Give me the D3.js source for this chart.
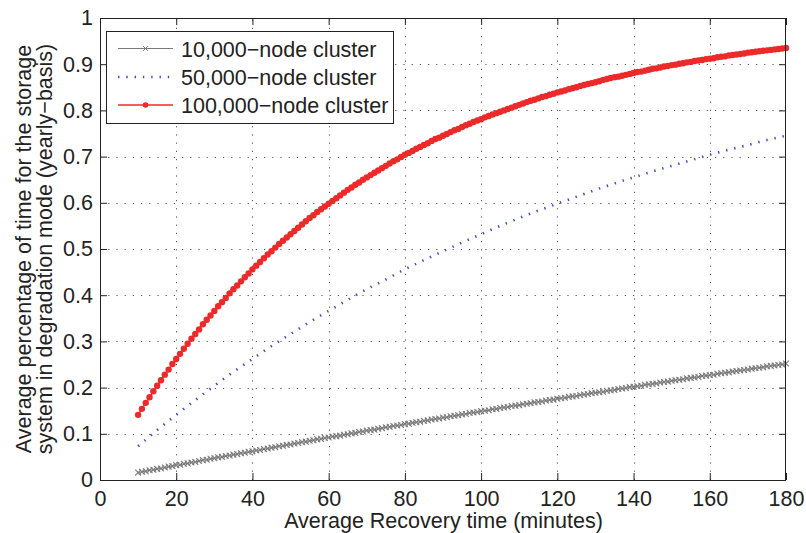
<!DOCTYPE html>
<html>
<head>
<meta charset="utf-8">
<script src="https://cdn.jsdelivr.net/npm/d3@7"></script>
<style>
  html, body { margin: 0; padding: 0; background: #fff; }
  svg { display: block; font-family: "Liberation Sans", Arial, Helvetica, sans-serif; }
</style>
</head>
<body>
<svg id="chart" width="806" height="533"></svg>
<script>
// Recovery time (minutes), one sample per minute
const minutes = d3.range(10, 181);

// 10,000-node cluster (gray, x markers)
const cluster10k = [
  0.016,0.018,0.019,0.021,0.022,0.024,0.025,0.027,0.029,0.030,
  0.032,0.033,0.035,0.036,0.038,0.039,0.041,0.043,0.044,0.046,
  0.047,0.049,0.050,0.052,0.053,0.055,0.056,0.058,0.059,0.061,
  0.062,0.064,0.065,0.067,0.068,0.070,0.071,0.073,0.074,0.076,
  0.077,0.079,0.080,0.082,0.083,0.085,0.086,0.088,0.089,0.091,
  0.092,0.094,0.095,0.096,0.098,0.099,0.101,0.102,0.104,0.105,
  0.107,0.108,0.109,0.111,0.112,0.114,0.115,0.117,0.118,0.119,
  0.121,0.122,0.124,0.125,0.126,0.128,0.129,0.131,0.132,0.133,
  0.135,0.136,0.138,0.139,0.140,0.142,0.143,0.145,0.146,0.147,
  0.149,0.150,0.151,0.153,0.154,0.156,0.157,0.158,0.160,0.161,
  0.162,0.164,0.165,0.166,0.168,0.169,0.170,0.172,0.173,0.174,
  0.176,0.177,0.178,0.180,0.181,0.182,0.184,0.185,0.186,0.188,
  0.189,0.190,0.191,0.193,0.194,0.195,0.197,0.198,0.199,0.201,
  0.202,0.203,0.204,0.206,0.207,0.208,0.209,0.211,0.212,0.213,
  0.215,0.216,0.217,0.218,0.220,0.221,0.222,0.223,0.225,0.226,
  0.227,0.228,0.230,0.231,0.232,0.233,0.235,0.236,0.237,0.238,
  0.239,0.241,0.242,0.243,0.244,0.246,0.247,0.248,0.249,0.250,
  0.252
];

// 50,000-node cluster (blue, dotted line), every 5 minutes
const minutes50k = d3.range(10, 181, 5);
const cluster50k = [
  0.073,0.108,0.141,0.173,0.204,0.234,0.262,0.290,0.316,0.342,
  0.366,0.390,0.413,0.434,0.456,0.476,0.495,0.514,0.532,0.550,
  0.567,0.583,0.598,0.613,0.628,0.642,0.655,0.668,0.680,0.692,
  0.704,0.715,0.725,0.736,0.745
];

// 100,000-node cluster (red, dot markers)
const cluster100k = [
  0.141,0.154,0.167,0.179,0.192,0.204,0.216,0.228,0.239,0.251,
  0.262,0.273,0.284,0.295,0.306,0.316,0.326,0.337,0.347,0.356,
  0.366,0.376,0.385,0.394,0.404,0.413,0.421,0.430,0.439,0.447,
  0.456,0.464,0.472,0.480,0.488,0.495,0.503,0.511,0.518,0.525,
  0.532,0.539,0.546,0.553,0.560,0.567,0.573,0.580,0.586,0.592,
  0.598,0.604,0.610,0.616,0.622,0.628,0.633,0.639,0.644,0.650,
  0.655,0.660,0.665,0.670,0.675,0.680,0.685,0.690,0.694,0.699,
  0.704,0.708,0.712,0.717,0.721,0.725,0.729,0.734,0.738,0.741,
  0.745,0.749,0.753,0.757,0.760,0.764,0.768,0.771,0.775,0.778,
  0.781,0.785,0.788,0.791,0.794,0.797,0.800,0.803,0.806,0.809,
  0.812,0.815,0.818,0.821,0.823,0.826,0.829,0.831,0.834,0.836,
  0.839,0.841,0.843,0.846,0.848,0.850,0.853,0.855,0.857,0.859,
  0.861,0.863,0.866,0.868,0.870,0.872,0.873,0.875,0.877,0.879,
  0.881,0.883,0.884,0.886,0.888,0.890,0.891,0.893,0.895,0.896,
  0.898,0.899,0.901,0.902,0.904,0.905,0.907,0.908,0.909,0.911,
  0.912,0.913,0.915,0.916,0.917,0.919,0.920,0.921,0.922,0.923,
  0.925,0.926,0.927,0.928,0.929,0.930,0.931,0.932,0.933,0.934,
  0.935
];

const xTicks = [0, 20, 40, 60, 80, 100, 120, 140, 160, 180];
const yTicks = [0, 0.1, 0.2, 0.3, 0.4, 0.5, 0.6, 0.7, 0.8, 0.9, 1];
const yTickLabels = ["0", "0.1", "0.2", "0.3", "0.4", "0.5", "0.6", "0.7", "0.8", "0.9", "1"];

const seriesNames = ["10,000\u2212node cluster", "50,000\u2212node cluster", "100,000\u2212node cluster"];
const xTitle = "Average Recovery time (minutes)";
const yTitleLines = ["Average percentage of time for the storage", "system in degradation mode (yearly\u2212basis)"];

const svg = d3.select("#chart");
const FONT = 21.5;
const INK = "#222";
const GRAY = "#7a7a7a", BLUE = "#3d4fc4", RED = "#ec2a2a";

const plot = { left: 100, right: 786, top: 18, bottom: 480 };
const x = d3.scaleLinear().domain([0, 180]).range([plot.left, plot.right]);
const y = d3.scaleLinear().domain([0, 1]).range([plot.bottom, plot.top]);

// dotted grid
const grid = svg.append("g").attr("stroke", "#555").attr("stroke-width", 1)
  .attr("stroke-dasharray", "1.2,7").attr("fill", "none");
grid.selectAll("line.v").data(xTicks.slice(1, -1)).join("line")
  .attr("x1", d => Math.round(x(d)) + 0.5).attr("x2", d => Math.round(x(d)) + 0.5)
  .attr("y1", plot.bottom).attr("y2", plot.top);
grid.selectAll("line.h").data(yTicks.slice(1, -1)).join("line")
  .attr("y1", d => Math.round(y(d)) + 0.5).attr("y2", d => Math.round(y(d)) + 0.5)
  .attr("x1", plot.left).attr("x2", plot.right);

// 10,000-node: thin gray line with x markers
const d10 = minutes.map((m, i) => [m, cluster10k[i]]);
const line = d3.line().x(d => x(d[0])).y(d => y(d[1]));
svg.append("path").datum(d10).attr("d", line)
  .attr("fill", "none").attr("stroke", GRAY).attr("stroke-width", 1);
const cross = "M-2.9,-2.9L2.9,2.9M-2.9,2.9L2.9,-2.9";
svg.append("g").selectAll("path").data(d10).join("path")
  .attr("transform", d => `translate(${x(d[0])},${y(d[1])})`)
  .attr("d", cross).attr("fill", "none").attr("stroke", GRAY).attr("stroke-width", 1.1);

// 50,000-node: blue dotted line
const d50 = minutes50k.map((m, i) => [m, cluster50k[i]]);
svg.append("path").datum(d50)
  .attr("d", d3.line().x(d => x(d[0])).y(d => y(d[1])).curve(d3.curveMonotoneX))
  .attr("fill", "none").attr("stroke", BLUE).attr("stroke-width", 2.6)
  .attr("stroke-dasharray", "1.4,6.9");

// 100,000-node: red line with dot markers
const d100 = minutes.map((m, i) => [m, cluster100k[i]]);
svg.append("path").datum(d100).attr("d", line)
  .attr("fill", "none").attr("stroke", RED).attr("stroke-width", 1.5);
svg.append("g").selectAll("circle").data(d100).join("circle")
  .attr("cx", d => x(d[0])).attr("cy", d => y(d[1])).attr("r", 3.2).attr("fill", RED);

// axes: ticks point inward on all four sides
function styleAxis(g) {
  g.select(".domain").remove();
  g.selectAll(".tick line").attr("stroke", INK).attr("stroke-width", 1);
  g.selectAll(".tick text").attr("fill", INK).attr("font-size", FONT)
    .attr("font-family", "Liberation Sans, Arial, sans-serif");
}
svg.append("g").attr("transform", `translate(0,${plot.bottom})`)
  .call(d3.axisBottom(x).tickValues(xTicks).tickSize(-7).tickPadding(10.5).tickFormat(d3.format("d")))
  .call(styleAxis);
svg.append("g").attr("transform", `translate(0,${plot.top})`)
  .call(d3.axisTop(x).tickValues(xTicks).tickSize(-7).tickFormat(""))
  .call(styleAxis);
svg.append("g").attr("transform", `translate(${plot.left},0)`)
  .call(d3.axisLeft(y).tickValues(yTicks).tickSize(-7).tickPadding(7)
    .tickFormat((d, i) => yTickLabels[i]))
  .call(styleAxis);
svg.append("g").attr("transform", `translate(${plot.right},0)`)
  .call(d3.axisRight(y).tickValues(yTicks).tickSize(-7).tickFormat(""))
  .call(styleAxis);

svg.append("rect")
  .attr("x", plot.left + 0.5).attr("y", plot.top + 0.5)
  .attr("width", plot.right - plot.left - 1).attr("height", plot.bottom - plot.top)
  .attr("fill", "none").attr("stroke", INK).attr("stroke-width", 1);

// axis titles
svg.append("text").attr("x", (plot.left + plot.right) / 2 + 0.5).attr("y", 528)
  .attr("text-anchor", "middle").attr("font-size", FONT).attr("fill", INK).text(xTitle);

const yt = svg.append("text").attr("transform", `translate(0,${(plot.top + plot.bottom) / 2}) rotate(-90)`)
  .attr("text-anchor", "middle").attr("font-size", FONT).attr("fill", INK);
yt.selectAll("tspan").data(yTitleLines).join("tspan")
  .attr("x", 0).attr("y", (d, i) => 31 + i * 21).text(d => d);

// legend
const legend = svg.append("g");
legend.append("rect").attr("x", 106.5).attr("y", 31.5).attr("width", 287).attr("height", 92)
  .attr("fill", "#fff").attr("stroke", INK).attr("stroke-width", 1);
const rowsY = [48.5, 77, 105];
const lx0 = 118, lx1 = 173, lxm = 145.5;
// gray row
legend.append("line").attr("x1", lx0).attr("x2", lx1).attr("y1", rowsY[0]).attr("y2", rowsY[0])
  .attr("stroke", GRAY).attr("stroke-width", 1);
legend.append("path").attr("transform", `translate(${lxm},${rowsY[0]})`)
  .attr("d", "M-2.4,-2.4L2.4,2.4M-2.4,2.4L2.4,-2.4")
  .attr("fill", "none").attr("stroke", GRAY);
// blue row
legend.append("line").attr("x1", lx0).attr("x2", lx1).attr("y1", rowsY[1]).attr("y2", rowsY[1])
  .attr("stroke", BLUE).attr("stroke-width", 2.6).attr("stroke-dasharray", "1.4,6.9");
// red row
legend.append("line").attr("x1", lx0).attr("x2", lx1).attr("y1", rowsY[2]).attr("y2", rowsY[2])
  .attr("stroke", RED).attr("stroke-width", 1.5);
legend.append("circle").attr("cx", lxm).attr("cy", rowsY[2]).attr("r", 2.8).attr("fill", RED);

legend.selectAll("text.lab").data(seriesNames).join("text")
  .attr("x", 181).attr("y", (d, i) => rowsY[i] + 8)
  .attr("font-size", FONT).attr("fill", INK).text(d => d);
</script>
</body>
</html>
